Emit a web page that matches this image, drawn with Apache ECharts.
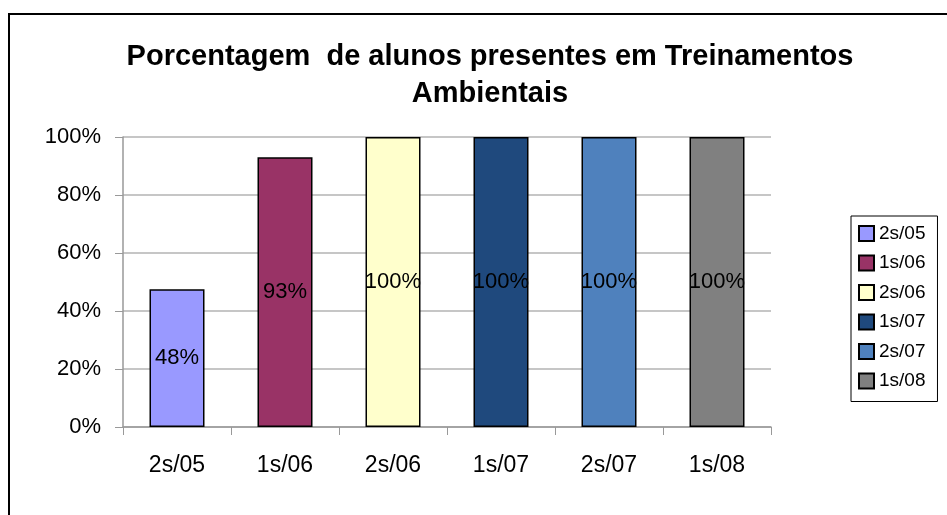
<!DOCTYPE html>
<html>
<head>
<meta charset="utf-8">
<script src="https://cdn.jsdelivr.net/npm/echarts@6/dist/echarts.min.js"></script>
<style>
  html, body { margin: 0; padding: 0; background: #fff; }
  #chart { width: 947px; height: 515px; }
</style>
</head>
<body>
<div id="chart"></div>
<script>
// semestres e percentuais
const categories = ['2s/05', '1s/06', '2s/06', '1s/07', '2s/07', '1s/08']
const presence = [0.475, 0.93, 1, 1, 1, 1]
const colors = ['#9999FF', '#993366', '#FFFFCC', '#1F497D', '#4F81BD', '#808080']
const yTicks = [0, 0.2, 0.4, 0.6, 0.8, 1]

const font = '"Liberation Sans", Arial, sans-serif'

// uma serie por barra, para a legenda mostrar cada semestre
const series = categories.map((name, i) => ({
  name: name,
  type: 'bar',
  stack: 'all',
  barWidth: 55,
  data: presence.map((v, j) => (j === i ? v : null)),
  itemStyle: {
    color: colors[i],
    borderColor: '#000',
    borderWidth: 1.5
  },
  label: {
    show: true,
    position: 'inside',
    color: '#000',
    fontSize: 22,
    fontFamily: font,
    formatter: p => Math.round(p.value * 100) + '%'
  }
}))

const chart = echarts.init(document.getElementById('chart'))
chart.setOption({
  animation: false,
  textStyle: { fontFamily: font },
  graphic: [{
    type: 'rect',
    shape: { x: 9, y: 14, width: 960, height: 520 },
    style: { fill: 'none', stroke: '#000', lineWidth: 2 },
    silent: true
  }],
  title: {
    text: 'Porcentagem  de alunos presentes em Treinamentos\nAmbientais',
    left: 485,
    top: 33,
    textAlign: 'center',
    textStyle: {
      fontSize: 29,
      fontWeight: 'bold',
      fontFamily: font,
      color: '#000',
      lineHeight: 37
    }
  },
  legend: {
    orient: 'vertical',
    left: 851,
    top: 216,
    padding: [8, 12, 11, 7],
    itemWidth: 15,
    itemHeight: 15,
    itemGap: 10.5,
    icon: 'rect',
    borderColor: '#000',
    borderWidth: 1,
    data: categories,
    textStyle: { fontSize: 19, fontFamily: font, color: '#000' }
  },
  grid: {
    left: 123,
    right: 176,
    top: 137,
    bottom: 88,
    containLabel: false
  },
  xAxis: {
    type: 'category',
    data: categories,
    axisLine: { lineStyle: { color: '#999', width: 1.5 } },
    axisTick: { show: true, length: 8, lineStyle: { color: '#999' } },
    axisLabel: { fontSize: 23, color: '#000', margin: 27, fontFamily: font }
  },
  yAxis: {
    type: 'value',
    min: 0,
    max: 1,
    interval: 0.2,
    axisLine: { show: true, lineStyle: { color: '#999', width: 1.5 } },
    axisTick: { show: true, length: 8, lineStyle: { color: '#999' } },
    splitLine: { lineStyle: { color: '#B3B3B3', width: 1.5 } },
    axisLabel: {
      fontSize: 22,
      color: '#000',
      margin: 22,
      fontFamily: font,
      formatter: v => {
        const t = yTicks.find(x => Math.abs(x - v) < 1e-9)
        return Math.round((t === undefined ? v : t) * 100) + '%'
      }
    }
  },
  series: series
})
</script>
</body>
</html>
